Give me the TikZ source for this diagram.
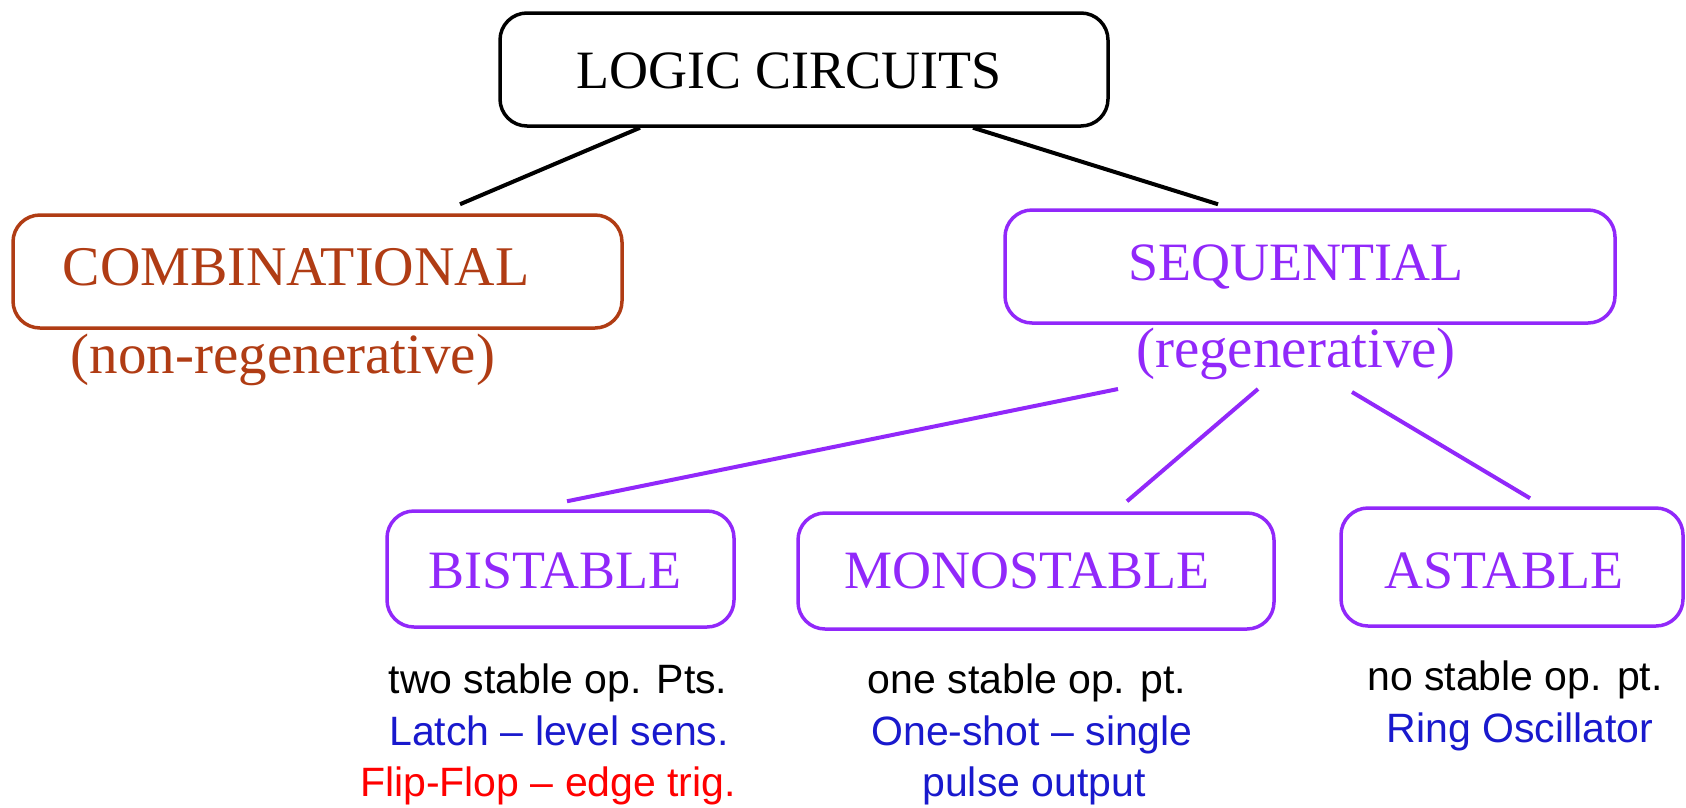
\documentclass[tikz,border=0pt]{standalone}
\usepackage{fontspec}
\setmainfont{Liberation Serif}
\newfontfamily\sansf{Liberation Sans}
\usetikzlibrary{calc}
\definecolor{combcol}{RGB}{176,60,20}
\definecolor{seqcol}{RGB}{145,40,250}
\definecolor{notecol}{RGB}{25,25,205}
\definecolor{edgecol}{RGB}{255,0,0}
\begin{document}
\begin{tikzpicture}[x=1pt,y=-1pt,
  tbox/.style={draw, rounded corners=27pt, line width=3.5pt, inner sep=0pt},
  captext/.style={font=\fontsize{54}{60}\selectfont, anchor=base, inner sep=0pt},
  subtext/.style={font=\fontsize{57}{64}\selectfont, anchor=base, inner sep=0pt},
  notetext/.style={font=\sansf\fontsize{41}{50}\selectfont, anchor=base, inner sep=0pt},
  link/.style={line width=4pt}]
\useasboundingbox[fill=white] (0,0) rectangle (1686,807);

% category boxes
\node[tbox, black, minimum width=608pt, minimum height=113pt] (logic) at (804,69.5) {};
\node[tbox, combcol, minimum width=609pt, minimum height=113pt] (comb) at (317.5,271.5) {};
\node[tbox, seqcol, minimum width=610pt, minimum height=113pt] (seq) at (1310,266.5) {};
\node[tbox, seqcol, minimum width=347pt, minimum height=116pt] (bist) at (560.5,569) {};
\node[tbox, seqcol, minimum width=476pt, minimum height=116pt] (mono) at (1036,571) {};
\node[tbox, seqcol, minimum width=342pt, minimum height=118pt] (ast) at (1512,567) {};

% box titles
\node[captext] (logictxt) at (789,88) {LOGIC CIRCUITS};
\node[captext, text=combcol, font=\fontsize{56}{62}\selectfont] (combtxt) at (296,285) {COMBINATIONAL};
\node[captext, text=seqcol] (seqtxt) at (1296,280) {SEQUENTIAL};
\node[captext, text=seqcol] (bisttxt) at (555,588) {BISTABLE};
\node[captext, text=seqcol] (monotxt) at (1027,588) {MONOSTABLE};
\node[captext, text=seqcol] (asttxt) at (1504,588) {ASTABLE};

% qualifiers under the upper boxes
\node[subtext, text=combcol] (nonregen) at (283,373) {(non-regenerative)};
\node[subtext, text=seqcol] (regen) at (1296,367) {(regenerative)};

% notes under the lower boxes
\node[notetext] (bistA) at (558,693) {two stable op. Pts.};
\node[notetext, text=notecol] (bistB) at (559,745) {Latch – level sens.};
\node[notetext, text=edgecol] (bistC) at (548,796) {Flip-Flop – edge trig.};
\node[notetext] (monoA) at (1027,693) {one stable op. pt.};
\node[notetext, text=notecol] (monoB) at (1032,745) {One-shot – single};
\node[notetext, text=notecol] (monoC) at (1034,796) {pulse output};
\node[notetext] (astA) at (1515,690) {no stable op. pt.};
\node[notetext, text=notecol] (astB) at (1520,742) {Ring Oscillator};

% connectors
\draw[link, black] ([xshift=-164pt]logic.south) -- ([xshift=142.5pt,yshift=9pt]comb.north);
\draw[link, black] ([xshift=169pt]logic.south) -- ([xshift=-92pt,yshift=4pt]seq.north);
\draw[link, seqcol] ([xshift=-178pt,yshift=-22pt]regen.base) -- ([xshift=6.5pt,yshift=8pt]bist.north);
\draw[link, seqcol] ([xshift=-38pt,yshift=-22pt]regen.base) -- ([xshift=91pt,yshift=10pt]mono.north);
\draw[link, seqcol] ([xshift=56pt,yshift=-25pt]regen.base) -- ([xshift=18pt,yshift=8pt]ast.north);
\end{tikzpicture}
\end{document}
